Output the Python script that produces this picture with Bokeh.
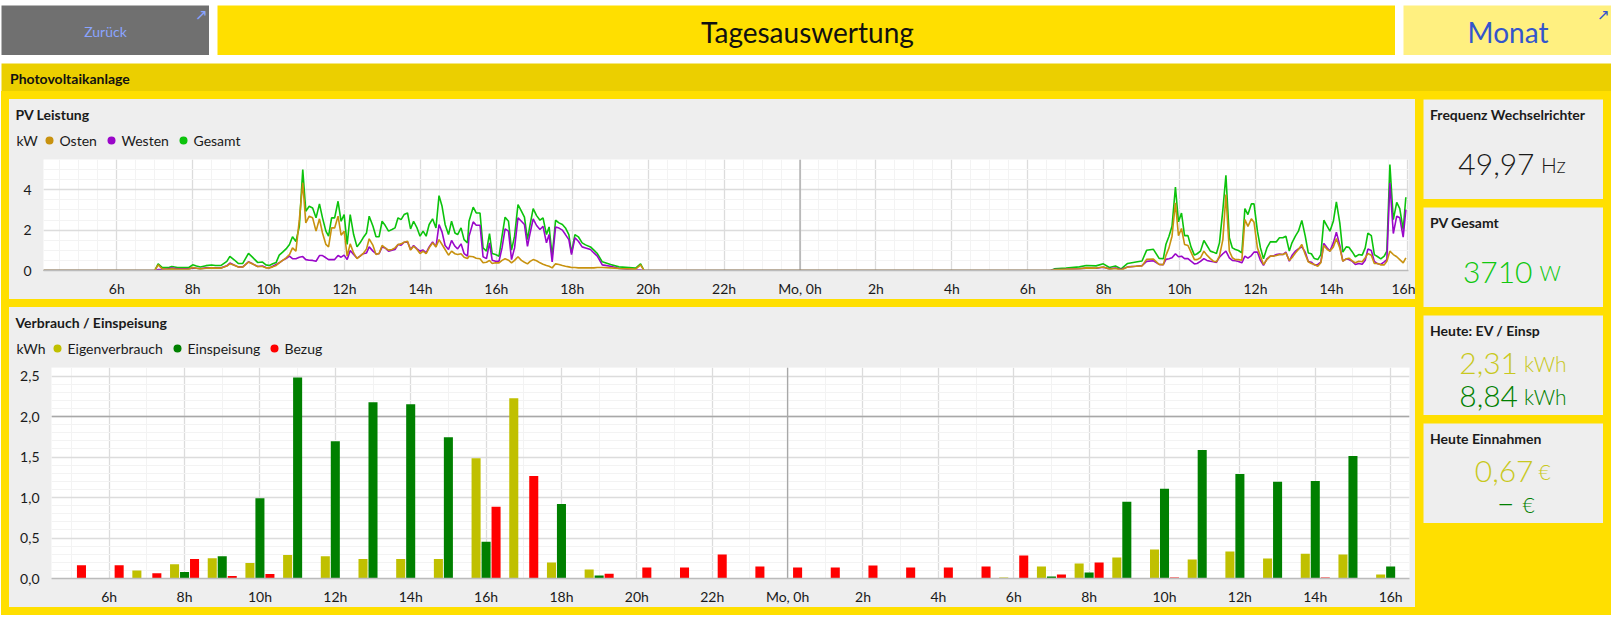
from bokeh.core.validation import silence
from bokeh.core.validation.warnings import MISSING_RENDERERS
from bokeh.embed import file_html
from bokeh.layouts import column, row
from bokeh.models import ColumnDataSource, FixedTicker, Label, Range1d, Span
from bokeh.plotting import figure
from bokeh.resources import INLINE
from bokeh.transform import dodge
import numpy as np

silence(MISSING_RENDERERS, True)

# ---------- data: PV Leistung (kW), hours counted from Sunday 0h ----------
t_start = [4.07, 7.00, 7.09, 7.20, 7.35, 7.45, 7.60, 7.75, 7.90, 8.00, 8.10, 8.20, 8.35, 8.50, 8.60, 8.75, 8.90, 8.98, 9.10, 9.20, 9.32, 9.47, 9.58, 9.71, 9.84, 9.93]
g_start = [0, 0, .33, .14, .14, .20, .15, .15, .15, .28, .22, .17, .24, .27, .25, .25, .45, .70, .52, .35, .35, .85, .65, .40, .42, .28]
o_start = [0, 0, .28, .08, .06, .08, .06, .06, .07, .15, .11, .08, .11, .13, .12, .12, .22, .33, .26, .17, .17, .42, .32, .20, .20, .13]
w_start = [0, 0, .05, .06, .08, .12, .09, .09, .08, .13, .11, .09, .13, .14, .13, .13, .23, .37, .26, .18, .18, .43, .33, .20, .22, .15]

t_noon = [10.02, 10.11, 10.20, 10.28, 10.37, 10.46, 10.55, 10.63, 10.72, 10.81,
          10.90, 10.98, 11.07, 11.16, 11.25, 11.34, 11.42, 11.51, 11.58, 11.66,
          11.74, 11.83, 11.91, 11.99, 12.07, 12.15, 12.24, 12.33, 12.41, 12.49,
          12.58, 12.65, 12.75, 12.83, 12.91, 12.99, 13.07, 13.16, 13.25, 13.33,
          13.41, 13.49, 13.57, 13.66, 13.74, 13.82, 13.91, 13.99, 14.07, 14.15,
          14.23, 14.32, 14.41, 14.49, 14.57, 14.65, 14.74, 14.82, 14.91, 14.98,
          15.07, 15.15, 15.24]
g_noon = [.25, .33, .40, .76, .91, 1.07, 1.29, 1.67, 1.44, 2.19,
          5.0, 2.94, 3.18, 3.10, 2.61, 3.30, 2.61, 1.95, 1.70, 2.61,
          2.61, 3.43, 2.44, 2.77, 1.29, 2.77, 1.78, 1.17, 1.37, 1.62,
          1.86, 2.69, 2.19, 1.67, 1.67, 2.44, 2.24, 1.95, 2.03, 2.11,
          2.61, 2.52, 2.77, 2.85, 2.06, 2.44, 2.11, 1.70, 1.95, 1.70,
          2.28, 2.56, 2.11, 3.71, 3.18, 2.28, 1.78, 2.44, 1.86, 1.78,
          2.11, 1.53, 1.37]
o_noon = [.13, .18, .25, .38, .50, .63, .79, 1.12, .96, 2.52,
          4.34, 2.36, 2.69, 2.61, 1.95, 2.56, 1.86, 1.29, 1.17, 2.11,
          2.11, 2.69, 1.75, 1.95, .71, 1.32, .87, .59, .71, .83,
          1.07, 1.57, 1.24, .79, .84, 1.24, 1.12, 1.01, 1.04, 1.12,
          1.29, 1.32, 1.40, 1.45, 1.01, 1.20, 1.04, .84, .96, .83,
          1.12, 1.37, 1.17, 1.53, 1.29, 1.04, .76, .96, .83, .79,
          .83, .66, .59]
w_noon = [.13, .21, .30, .38, .50, .59, .71, .59, .58, .66,
          .69, .54, .51, .50, .46, .74, .74, .63, .54, .54,
          .54, .74, .66, .76, .54, .99, .79, .61, .71, .83,
          .87, 1.17, .96, .83, .83, 1.17, 1.12, .96, 1.01, 1.04,
          1.29, 1.25, 1.40, 1.42, 1.04, 1.24, 1.07, .96, 1.01, .87,
          1.17, 1.42, 1.17, 2.28, 1.90, 1.24, 1.04, 1.49, 1.20, 1.07,
          1.32, .84, .71]

t_late = [15.28, 15.39, 15.47, 15.57, 15.65, 15.74, 15.82, 15.89, 15.98, 16.07,
          16.15, 16.23, 16.32, 16.40, 16.48, 16.57, 16.66, 16.74, 16.82, 16.89,
          16.97, 17.06, 17.15, 17.23, 17.32, 17.39, 17.47, 17.56, 17.65, 17.74,
          17.82, 17.91, 17.98, 18.07, 18.16, 18.26, 18.35, 18.48, 18.57, 18.66,
          18.79, 19.01, 19.23, 19.67, 19.80, 19.89, 30.60]
g_late = [2.44, 3.14, 2.85, 2.85, 1.12, .96, 1.83, .84, .79, .71,
          1.70, 2.64, 2.44, 1.01, 1.70, 3.27, 2.94, 2.64, 1.53, 2.28,
          3.07, 2.72, 2.49, 2.61, 1.78, 2.16, .71, 2.49, 2.36, 2.28,
          2.11, 1.78, .87, 1.78, 1.67, 1.37, 1.27, 1.17, 1.01, .84,
          .43, .30, .18, .12, .33, 0, 0]
o_late = [.71, .68, .61, .58, .38, .41, .50, .35, .38, .38,
          .50, .58, .51, .38, .50, .68, .50, .41, .33, .45,
          .54, .48, .38, .31, .25, .21, .13, .33, .30, .25,
          .21, .18, .15, .15, .13, .13, .13, .13, .13, .15,
          .15, .13, .10, .07, .28, 0, 0]
w_late = [1.70, 2.41, 2.24, 2.24, .68, .59, 1.37, .51, .46, .46,
          1.12, 2.06, 1.95, .54, 1.12, 2.61, 2.44, 2.28, 1.20, 1.86,
          2.56, 2.23, 2.03, 2.19, 1.37, 1.78, .43, 2.16, 2.10, 2.00,
          1.78, 1.53, .79, 1.62, 1.45, 1.17, 1.12, 1.04, .87, .71,
          .28, .21, .10, .03, .02, 0, 0]

t_monday = [30.70, 31.01, 31.36, 31.54, 31.80, 31.99, 32.15, 32.31, 32.46, 32.63, 32.85, 33.01, 33.13, 33.31, 33.46, 33.57, 33.64]
g_monday = [.08, .12, .18, .25, .23, .33, .15, .22, .08, .35, .42, .47, 1.00, 1.05, .60, .58, 1.30]
o_monday = [.03, .06, .09, .13, .12, .17, .07, .10, .03, .17, .21, .23, .55, .57, .30, .29, .75]
w_monday = [.05, .06, .09, .12, .11, .16, .08, .12, .05, .18, .21, .24, .45, .48, .30, .29, .55]

t_monnoon = [33.72, 33.80, 33.89, 33.97, 34.05, 34.13, 34.22, 34.30, 34.39, 34.46,
             34.55, 34.64, 34.72, 34.81, 34.89, 34.97, 35.05, 35.14, 35.22, 35.31,
             35.39, 35.47, 35.55, 35.64, 35.72, 35.80, 35.89, 35.96, 36.05, 36.13,
             36.21, 36.30, 36.39, 36.46, 36.55, 36.63, 36.72, 36.80, 36.89, 36.96,
             37.05, 37.13, 37.22, 37.31, 37.39, 37.47, 37.55, 37.64, 37.72, 37.80,
             37.89, 37.96, 38.05, 38.13, 38.22, 38.30, 38.39, 38.46, 38.55, 38.63,
             38.72, 38.81, 38.89, 38.96, 39.05, 39.13, 39.22, 39.30, 39.39, 39.46,
             39.54, 39.63, 39.72, 39.80, 39.89, 39.96]
g_monnoon = [1.70, 2.19, 4.14, 2.41, 2.85, 1.73, 1.73, 1.17, .76, .83,
             .96, 1.49, 1.24, .96, .91, .84, 1.37, 3.02, 4.72, 1.62,
             1.12, 1.04, .99, .87, 3.07, 2.77, 3.30, 3.30, 1.95, 1.12,
             .58, 1.12, 1.42, 1.42, 1.42, 1.62, 1.62, 1.70, .96, 1.37,
             1.70, 1.95, 2.48, 1.70, .87, .83, .59, .54, .79, 2.49,
             2.19, 1.95, 2.44, 3.40, 2.36, .91, 1.17, 1.15, .92, .68,
             .79, .76, 1.12, 1.85, 1.73, .79, .68, .58, .71, .96,
             5.25, 2.52, 3.38, 3.07, 2.03, 3.63]
o_monnoon = [1.12, 1.70, 3.35, 1.73, 2.08, 1.29, 1.24, .91, .54, .54,
             .63, .96, .76, .59, .46, .43, .71, 1.53, 3.76, .96,
             .63, .54, .54, .51, 2.52, 2.19, 2.56, 2.39, 1.12, .71,
             .30, .54, .71, .71, .74, .79, .79, .87, .50, .63,
             .87, 1.04, 1.29, .79, .43, .35, .30, .21, .38, 1.24,
             1.04, .96, 1.17, 1.58, 1.12, .46, .58, .61, .48, .38,
             .46, .43, .63, .84, .76, .35, .35, .28, .28, .46,
             .96, .79, .68, .54, .38, .63]
w_monnoon = [.58, .63, .83, .68, .71, .59, .59, .46, .33, .35,
             .45, .59, .50, .46, .43, .40, .66, .83, .96, .63,
             .50, .48, .45, .38, .71, .61, .74, .91, .92, .50,
             .26, .58, .71, .71, .79, .81, .79, .91, .46, .74,
             .96, 1.07, 1.17, .91, .45, .41, .28, .30, .41, 1.34,
             1.12, .96, 1.37, 1.90, 1.24, .46, .58, .54, .45, .30,
             .35, .31, .51, 1.06, .99, .45, .33, .30, .43, .54,
             4.34, 1.83, 2.69, 2.61, 1.65, 3.02]

pv_hours = t_start + t_noon + t_late + t_monday + t_monnoon
pv_osten = o_start + o_noon + o_late + o_monday + o_monnoon
pv_westen = w_start + w_noon + w_late + w_monday + w_monnoon
pv_gesamt = g_start + g_noon + g_late + g_monday + g_monnoon

# ---------- data: Verbrauch / Einspeisung (kWh per hour) ----------
bar_hours = list(range(5, 41))
eigenverbrauch = [0, 0, .10, .177, .25, .19, .29, .275, .24, .24, .24, 1.485, 2.225, .197, .11,
                  0, 0, 0, 0, 0, 0, 0, 0, 0, 0, .012, .147, .185, .258, .357, .234, .332, .246, .307, .295, .05]
einspeisung = [0, 0, 0, .08, .275, .99, 2.48, 1.695, 2.175, 2.15, 1.745, .455, 0, .92, .037,
               0, 0, 0, 0, 0, 0, 0, 0, 0, 0, 0, .025, .074, .947, 1.107, 1.586, 1.29, 1.193, 1.205, 1.512, .147]
bezug = [.165, .165, .066, .24, .03, .055, 0, 0, 0, 0, 0, .885, 1.266, 0, .06,
         .135, .135, .295, .147, .135, .135, .16, .135, .135, .147, .283, .05, .197, 0, .012, 0, 0, 0, .012, 0, 0]

# ---------- tick labels ----------
hour_ticks = list(range(6, 41, 2))
hour_labels = ["6h", "8h", "10h", "12h", "14h", "16h", "18h", "20h", "22h", "Mo, 0h",
               "2h", "4h", "6h", "8h", "10h", "12h", "14h", "16h"]
pv_y_ticks = [0, 2, 4]
pv_y_labels = ["0", "2", "4"]
kwh_y_ticks = [0, 0.5, 1, 1.5, 2, 2.5]
kwh_y_labels = ["0,0", "0,5", "1,0", "1,5", "2,0", "2,5"]

YELLOW = "#ffdf00"
GREY = "#eeeeee"
INK = "#1a1a1a"
OSTEN = "#c8920f"
WESTEN = "#9a06c9"
GESAMT = "#0cc30c"
EV = "#c0c000"
ES = "#008000"
BZ = "#ff0000"
LIGHT = "Lato Light"


def panel(w, h, bg):
    return figure(width=w, height=h, x_range=Range1d(0, w), y_range=Range1d(h, 0),
                  toolbar_location=None, output_backend="svg", min_border=0,
                  x_axis_type=None, y_axis_type=None, outline_line_color=None,
                  background_fill_color=bg, border_fill_color=bg)


def put(fig, x, y, text, size=14, color=INK, font="Lato", style="normal",
        align="left", baseline="middle"):
    fig.add_layout(Label(x=x, y=y, text=text, text_font=font, text_font_size=f"{size}px",
                         text_color=color, text_font_style=style, text_align=align,
                         text_baseline=baseline))


def button(w, h, bg, text, size, color, tx, ty, arrow=None):
    f = panel(w, h, bg)
    put(f, tx, ty, text, size, color, align="center")
    if arrow:
        put(f, w - 8, 9, "\u2197", 15, arrow, font="DejaVu Sans", align="center")
    return f


def head(w, title, unit, entries):
    f = panel(w, 60, GREY)
    put(f, 6, 15, title, 14, style="bold")
    put(f, 7, 41, unit, 14)
    xs = [e[1] for e in entries]
    f.scatter(xs, [41] * len(xs), size=8, color=[e[2] for e in entries], line_color=None)
    for label, x, _ in entries:
        put(f, x + 10, 41, label, 14)
    return row(f, width=w, height=60)


def style_chart(f, y_ticks, y_labels, x_minor, y_minor):
    f.xaxis.ticker = FixedTicker(ticks=hour_ticks, minor_ticks=x_minor)
    f.yaxis.ticker = FixedTicker(ticks=y_ticks, minor_ticks=y_minor)
    f.xaxis.major_label_overrides = dict(zip(hour_ticks, hour_labels))
    f.yaxis.major_label_overrides = dict(zip(y_ticks, y_labels))
    for ax in (f.xaxis[0], f.yaxis[0]):
        ax.major_tick_line_color = None
        ax.minor_tick_line_color = None
        ax.major_label_text_font = "Lato"
        ax.major_label_text_font_size = "14px"
        ax.major_label_text_color = INK
    f.xaxis.major_label_standoff = 3
    f.yaxis.major_label_standoff = 6
    f.xaxis.axis_line_color = "#bbbbbb"
    f.xaxis.axis_line_width = 1.5
    f.yaxis.axis_line_color = None
    f.grid.grid_line_color = "#dcdcdc"
    f.grid.grid_line_width = 1.3
    f.grid.minor_grid_line_color = "#f3f3f3"
    f.grid.minor_grid_line_width = 1


# ---------- top bar ----------
btn_back = button(208, 50, "#707070", "Zurück", 14, "#8aa4ff", 104, 26, arrow="#8aa4ff")
btn_title = button(1178, 50, YELLOW, "Tagesauswertung", 28, "#111111", 590, 26)
btn_month = button(208, 50, "#fff080", "Monat", 28, "#3355cc", 104.5, 26, arrow="#3355cc")
top = row(btn_back, btn_title, btn_month, spacing=8)

strip = panel(1610, 28, "#ebcf00")
put(strip, 8.5, 15, "Photovoltaikanlage", 14, "#111111", style="bold")

# ---------- PV chart ----------
pv_head = head(1406, "PV Leistung", "kW",
               [("Osten", 40, OSTEN), ("Westen", 102, WESTEN), ("Gesamt", 174, GESAMT)])
pv = figure(width=1406, height=140, x_range=Range1d(4.07, 40.03), y_range=Range1d(0, 5.5),
            toolbar_location=None, output_backend="svg", min_border_left=34, min_border_right=7,
            min_border_top=0, min_border_bottom=29, outline_line_color=None,
            background_fill_color="white", border_fill_color=GREY)
style_chart(pv, pv_y_ticks, pv_y_labels, list(np.arange(4.5, 40.1, 0.5)), list(np.arange(0.5, 5.6, 0.5)))
pv.add_layout(Span(location=24, dimension="height", line_color="#a8a8a8", line_width=1.3, level="underlay"))
pv_src = ColumnDataSource(dict(h=pv_hours, o=pv_osten, w=pv_westen, g=pv_gesamt))
pv.line("h", "g", source=pv_src, color=GESAMT, line_width=1.6)
pv.line("h", "w", source=pv_src, color=WESTEN, line_width=1.6)
pv.line("h", "o", source=pv_src, color=OSTEN, line_width=1.6)

# ---------- energy chart ----------
en_head = head(1406, "Verbrauch / Einspeisung", "kWh",
               [("Eigenverbrauch", 48, EV), ("Einspeisung", 168, ES), ("Bezug", 265, BZ)])
en = figure(width=1406, height=240, x_range=Range1d(4.47, 40.5), y_range=Range1d(0, 2.605),
            toolbar_location=None, output_backend="svg", min_border_left=42, min_border_right=6,
            min_border_top=0, min_border_bottom=29, outline_line_color=None,
            background_fill_color="white", border_fill_color=GREY)
style_chart(en, kwh_y_ticks, kwh_y_labels, list(np.arange(5, 41, 1.0)), list(np.arange(0.1, 2.65, 0.1)))
en.add_layout(Span(location=24, dimension="height", line_color="#a8a8a8", line_width=1.3, level="underlay"))
en.add_layout(Span(location=2, dimension="width", line_color="#a8a8a8", line_width=1.3, level="underlay"))
en_src = ColumnDataSource(dict(h=bar_hours, ev=eigenverbrauch, es=einspeisung, bz=bezug))
en.vbar(x=dodge("h", -0.265, range=en.x_range), top="ev", width=0.24, source=en_src, color=EV, line_color=None)
en.vbar(x="h", top="es", width=0.24, source=en_src, color=ES, line_color=None)
en.vbar(x=dodge("h", 0.265, range=en.x_range), top="bz", width=0.24, source=en_src, color=BZ, line_color=None)

grey_bg = {"background-color": GREY}
left = column(column(pv_head, row(pv, width=1406, height=140), spacing=0, width=1406, height=200, styles=grey_bg),
              column(en_head, row(en, width=1406, height=240), spacing=0, width=1406, height=300, styles=grey_bg),
              spacing=8)


# ---------- value cards ----------
def card(title, lines):
    f = panel(180, 100, GREY)
    put(f, 6.5, 15, title, 14, style="bold")
    for number, unit, color, right, unit_x, base in lines:
        put(f, right, base, number, 30, color, font=LIGHT, align="right", baseline="alphabetic")
        put(f, unit_x, base, unit, 21, color, font=LIGHT, baseline="alphabetic")
    return f


cards = column(
    card("Frequenz Wechselrichter", [("49,97", "Hz", "#1a1a1a", 111, 117.5, 65)]),
    card("PV Gesamt", [("3710", "W", "#10c810", 109, 116, 65)]),
    card("Heute: EV / Einsp", [("2,31", "kWh", "#c8c820", 94.5, 100.5, 48), ("8,84", "kWh", ES, 94.5, 100.5, 81)]),
    card("Heute Einnahmen", [("0,67", "€", "#c8c820", 110, 115, 48), ("\u2212", "€", ES, 91, 99, 81)]),
    spacing=8,
)

body_row = row(left, cards, spacing=8, margin=(8, 8, 8, 8), width=1594, height=508)
body = column(body_row, width=1610, height=524, styles={"background-color": YELLOW})

root = column(top, strip, body, spacing=0, width=1610, height=610, margin=(5, 0, 0, 1))
top.margin = (0, 0, 8, 0)

open("out.html", "w").write(file_html(root, INLINE))
